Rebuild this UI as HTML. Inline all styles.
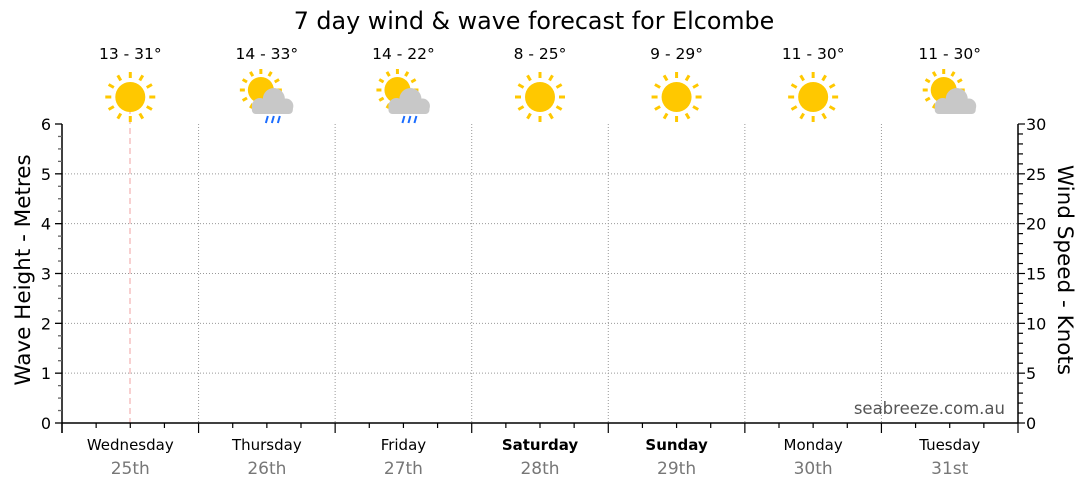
<!DOCTYPE html>
<html><head><meta charset="utf-8"><style>
body{margin:0;background:#fff;}
svg{display:block;font-family:"DejaVu Sans","Liberation Sans",sans-serif;}
</style></head><body>
<svg id="s" width="1080" height="490" viewBox="0 0 1080 490"></svg>
<script>
const s=document.getElementById('s');let h='';
h+='<text x="534" y="29" font-size="23.8" text-anchor="middle" fill="#000">7 day wind &amp; wave forecast for Elcombe</text>';
const L=62,R=1018,T=124,B=423,dw=(R-L)/7;
for(let v=1;v<=5;v++){const y=B-v*(B-T)/6;h+=`<line x1="${L}" x2="${R}" y1="${y}" y2="${y}" stroke="#999" stroke-dasharray="1,2"/>`;}
for(let d=1;d<7;d++){const x=L+d*dw;h+=`<line x1="${x}" x2="${x}" y1="${T}" y2="${B}" stroke="#999" stroke-dasharray="1,2"/>`;}
h+=`<line x1="130" x2="130" y1="88" y2="${B}" stroke="#f0a0a0" stroke-dasharray="6,4"/>`;
h+=`<line x1="${L}" x2="${L}" y1="${T}" y2="${B+10}" stroke="#000" stroke-width="1.5"/>`;
for(let i=0;i<=24;i++){const y=B-i*(B-T)/24;const maj=i%4==0;h+=`<line x1="${maj?L-7:L-4}" x2="${L}" y1="${y}" y2="${y}" stroke="${maj?'#000':'#666'}" stroke-width="1.3"/>`;if(maj)h+=`<text x="${L-11}" y="${y+6}" font-size="16" text-anchor="end">${i/4}</text>`;}
h+=`<line x1="${R}" x2="${R}" y1="${T}" y2="${B}" stroke="#000" stroke-width="1.5"/>`;
for(let i=0;i<=30;i++){const y=B-i*(B-T)/30;const maj=i%5==0;h+=`<line x1="${R}" x2="${R+(maj?7:5)}" y1="${y}" y2="${y}" stroke="#000" stroke-width="1.2"/>`;if(maj)h+=`<text x="${R+8}" y="${y+6}" font-size="16">${i}</text>`;}
h+=`<line x1="${L}" x2="${R}" y1="${B}" y2="${B}" stroke="#000" stroke-width="1.5"/>`;
for(let i=0;i<=28;i++){const x=L+i*dw/4;const maj=i%4==0;h+=`<line x1="${x}" x2="${x}" y1="${B}" y2="${B+(maj?10:5)}" stroke="#000" stroke-width="1.2"/>`;}
h+='<text x="30" y="270" font-size="21.5" text-anchor="middle" transform="rotate(-90 30 270)">Wave Height - Metres</text>';
h+='<text x="1058" y="270" font-size="21.5" text-anchor="middle" transform="rotate(90 1058 270)">Wind Speed - Knots</text>';
h+='<text x="1005" y="414" font-size="16.5" text-anchor="end" fill="#555">seabreeze.com.au</text>';
const days=['Wednesday','Thursday','Friday','Saturday','Sunday','Monday','Tuesday'],dates=['25th','26th','27th','28th','29th','30th','31st'],temps=['13 - 31°','14 - 33°','14 - 22°','8 - 25°','9 - 29°','11 - 30°','11 - 30°'],ic=['s','r','r','s','s','s','c'];
function sun(cx,cy,r,r1,r2){let o=`<circle cx="${cx}" cy="${cy}" r="${r}" fill="#ffc800"/>`;for(let k=0;k<12;k++){const a=k*Math.PI/6;o+=`<line x1="${cx+r1*Math.sin(a)}" y1="${cy-r1*Math.cos(a)}" x2="${cx+r2*Math.sin(a)}" y2="${cy-r2*Math.cos(a)}" stroke="#ffc800" stroke-width="3"/>`;}return o;}
function cloud(cx,cy){return `<g fill="#c8c8c8"><circle cx="${cx+3}" cy="${cy-4}" r="11"/><circle cx="${cx-11}" cy="${cy+3}" r="8"/><circle cx="${cx+15}" cy="${cy+3}" r="7.5"/><rect x="${cx-19}" y="${cy+2}" width="41" height="9" rx="4"/></g>`;}
for(let d=0;d<7;d++){const cx=L+d*dw+dw/2;
h+=`<text x="${cx}" y="59" font-size="15.5" text-anchor="middle">${temps[d]}</text>`;
const b=(d==3||d==4)?' font-weight="bold"':'';
h+=`<text x="${cx}" y="450" font-size="15" text-anchor="middle"${b}>${days[d]}</text>`;
h+=`<text x="${cx}" y="474" font-size="17" text-anchor="middle" fill="#777">${dates[d]}</text>`;
if(ic[d]=='s')h+=sun(cx,97,15,19,25);
else{h+=sun(cx-6,90,13,16,21);h+=cloud(cx+4,103);if(ic[d]=='r'){for(let k=0;k<3;k++){const x=cx+1+k*6;h+=`<line x1="${x}" y1="116" x2="${x-2}" y2="123" stroke="#1a6cff" stroke-width="2"/>`;}}}
}
s.innerHTML=h;
</script>
</body></html>
